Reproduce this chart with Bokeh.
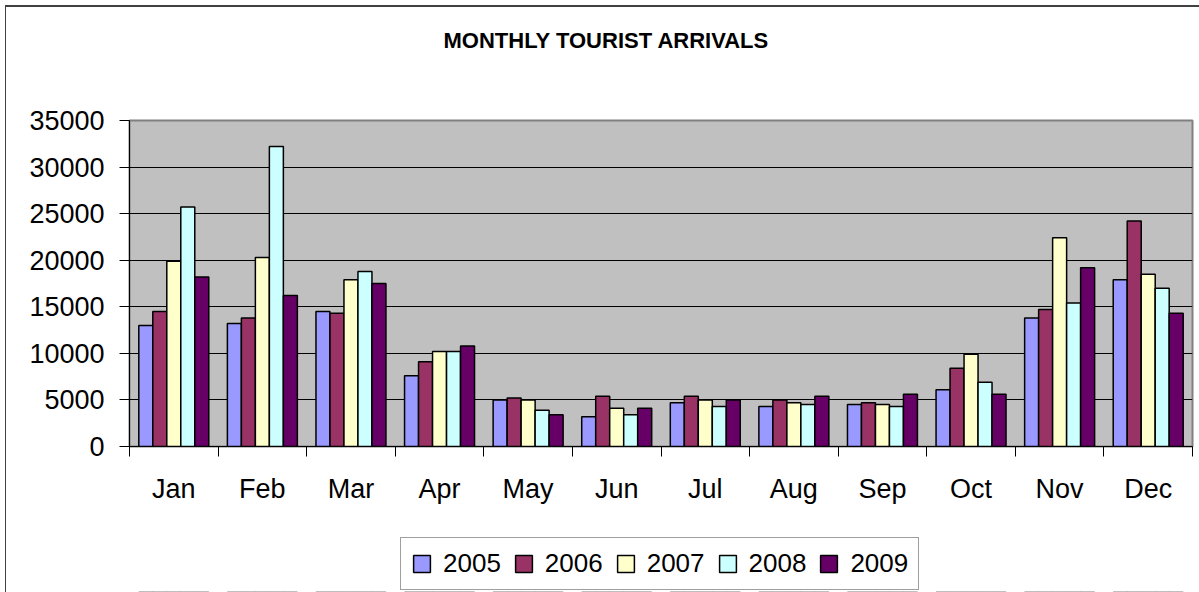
from bokeh.plotting import figure
from bokeh.layouts import column
from bokeh.models import (ColumnDataSource, Range1d, FixedTicker, Legend, LegendItem, Title)
from bokeh.transform import dodge
from bokeh.embed import file_html
from bokeh.resources import INLINE

# ---- data -------------------------------------------------------------
months = ["Jan", "Feb", "Mar", "Apr", "May", "Jun",
          "Jul", "Aug", "Sep", "Oct", "Nov", "Dec"]
years = ["2005", "2006", "2007", "2008", "2009"]
v2005 = [13000, 13200, 14500, 7600, 5000, 3200, 4700, 4300, 4500, 6100, 13800, 17900]
v2006 = [14500, 13800, 14300, 9100, 5200, 5400, 5400, 5000, 4700, 8400, 14700, 24200]
v2007 = [19900, 20300, 17900, 10200, 5000, 4100, 5000, 4700, 4500, 9900, 22400, 18500]
v2008 = [25700, 32200, 18800, 10200, 3900, 3400, 4300, 4500, 4300, 6900, 15400, 17000]
v2009 = [18200, 16200, 17500, 10800, 3400, 4100, 5000, 5400, 5600, 5600, 19200, 14300]
y_ticks = [0, 5000, 10000, 15000, 20000, 25000, 30000, 35000]
title_text = "MONTHLY TOURIST ARRIVALS"

# ---- style ------------------------------------------------------------
colors = ["#9999FF", "#993366", "#FFFFCC", "#CCFFFF", "#660066"]
FONT = "Liberation Sans"
bar_w = 0.158
offsets = [-2 * bar_w, -bar_w, 0.0, bar_w, 2 * bar_w]

n = len(months)
centers = [i + 0.5 for i in range(n)]      # slot centres on a 0..n scale
bounds = list(range(n + 1))                 # slot boundaries (tick marks)

source = ColumnDataSource(dict(pos=centers, month=months, y2005=v2005, y2006=v2006,
                               y2007=v2007, y2008=v2008, y2009=v2009))
cols = ["y2005", "y2006", "y2007", "y2008", "y2009"]

# ---- main chart -------------------------------------------------------
p = figure(x_range=Range1d(0, n), y_range=Range1d(y_ticks[0], y_ticks[-1]),
           width=1199, height=520, output_backend="svg", toolbar_location=None,
           min_border_left=129, min_border_right=7,
           min_border_top=120, min_border_bottom=74)
p.title = None
p.background_fill_color = "#C0C0C0"
p.border_fill_color = None
p.outline_line_color = "#808080"
p.outline_line_width = 2

# title (a blank spacer title sits between the frame and the real title)
spacer = Title(text=" ", text_font=FONT, text_font_size="22px", standoff=34)
p.add_layout(spacer, "above")
title = Title(text=title_text, align="left", offset=314, vertical_align="top",
              standoff=10, text_font=FONT, text_font_size="22px",
              text_font_style="bold", text_color="black")
p.add_layout(title, "above")

# y axis
p.yaxis.ticker = FixedTicker(ticks=y_ticks)
p.yaxis.major_label_text_font = FONT
p.yaxis.major_label_text_font_size = "27px"
p.yaxis.major_label_text_color = "black"
p.yaxis.major_tick_out = 10
p.yaxis.major_tick_in = 0
p.yaxis.major_tick_line_color = "black"
p.yaxis.minor_tick_line_color = None
p.yaxis.axis_line_color = "black"
p.yaxis.major_label_standoff = 15

p.ygrid.ticker = FixedTicker(ticks=y_ticks[1:-1])
p.ygrid.grid_line_color = "black"
p.ygrid.grid_line_width = 1
p.xgrid.grid_line_color = None

# x axis: labels at slot centres, tick marks at slot boundaries
xa = p.xaxis[0]
xa.ticker = FixedTicker(ticks=centers, minor_ticks=bounds)
xa.major_label_overrides = {c: m for c, m in zip(centers, months)}
xa.major_tick_line_color = None
xa.major_tick_out = 10
xa.major_tick_in = 0
xa.minor_tick_line_color = "black"
xa.minor_tick_out = 10
xa.minor_tick_in = 0
xa.axis_line_color = "black"
xa.major_label_text_font = FONT
xa.major_label_text_font_size = "27px"
xa.major_label_text_color = "black"
xa.major_label_standoff = 17

# bars
for col, off, c in zip(cols, offsets, colors):
    p.vbar(x=dodge("pos", off), top=col, width=bar_w, source=source,
           fill_color=c, line_color="black", line_width=1.5)

# ---- legend strip ----------------------------------------------------
# its y range lies above all the data, so the bars fall below the strip and
# only the legend swatches are visible
pl = figure(x_range=Range1d(0, n), y_range=Range1d(36000, 72000), width=1199, height=72,
            output_backend="svg", toolbar_location=None,
            x_axis_location=None, y_axis_location=None,
            min_border_left=0, min_border_right=0, min_border_top=0, min_border_bottom=0)
pl.title = None
pl.grid.visible = False
pl.outline_line_color = None
pl.background_fill_color = None
pl.border_fill_color = None

items = []
for yr, col, off, c in zip(years, cols, offsets, colors):
    r = pl.vbar(x=dodge("pos", off), top=col, width=bar_w, source=source,
                fill_color=c, line_color="black", line_width=1.5)
    items.append(LegendItem(label=yr, renderers=[r]))

legend = Legend(items=items, orientation="horizontal", location=(271, 2),
                glyph_width=21, glyph_height=21, label_standoff=11, spacing=12,
                padding=10, margin=0, label_text_font=FONT, label_text_font_size="26px",
                label_text_color="black", border_line_color="#404040",
                border_line_width=1, background_fill_color="white",
                background_fill_alpha=1.0)
pl.add_layout(legend, "center")

layout = column(p, pl, spacing=0)
layout.styles = {"box-shadow": "inset 5px 5px 0 #ffffff, inset 6px 7px 0 #404040"}

open("out.html", "w").write(file_html(layout, INLINE))
